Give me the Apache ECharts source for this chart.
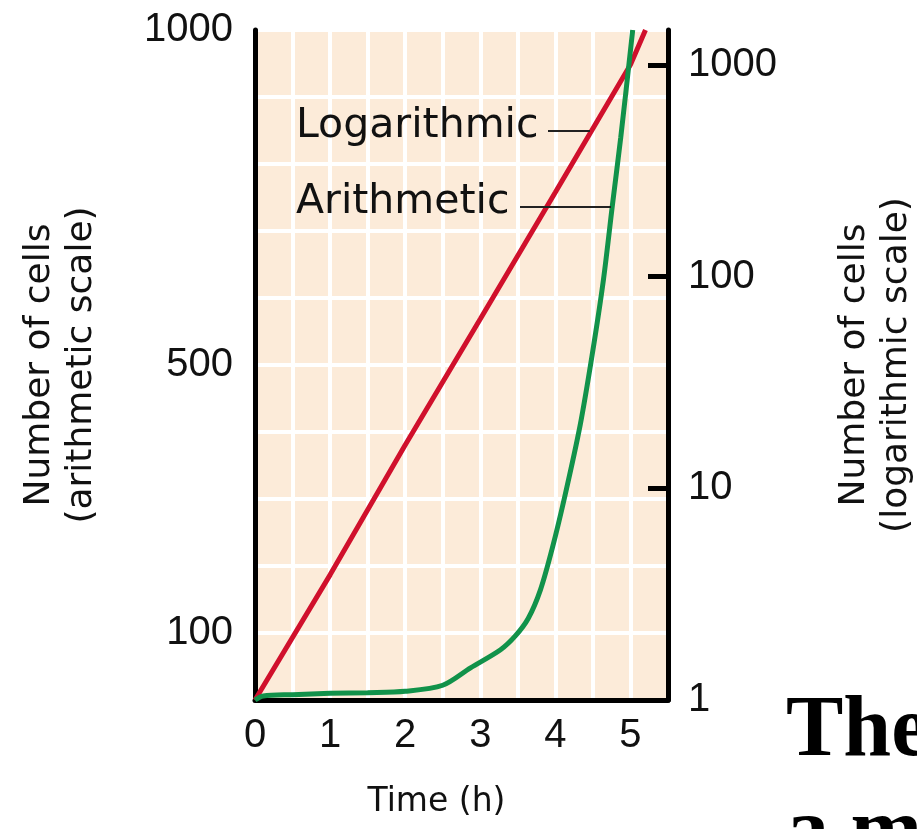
<!DOCTYPE html>
<html>
<head>
<meta charset="utf-8">
<script src="https://cdn.jsdelivr.net/npm/echarts@6/dist/echarts.min.js"></script>
<style>
html,body{margin:0;padding:0;background:#fff;}
#c{width:917px;height:829px;}
</style>
</head>
<body>
<div id="c"></div>
<script>
// Time (h) values and cell counts
var logTime   = [0, 1, 2, 3, 4, 5, 5.2];
var logCells  = [1, 3.9, 16, 63, 250, 1000, 1460];          // red line, log scale (right axis)
var arithTime  = [0, 0.11, 0.5, 1, 1.5, 2, 2.5, 2.87, 3.27, 3.47, 3.64, 3.80, 3.96, 4.13, 4.33, 4.49, 4.64, 4.76, 4.87, 5.03];
var arithCells = [0, 6, 8, 10, 11, 13, 22, 48, 75, 96, 122, 164, 227, 306, 410, 515, 627, 739, 839, 1000]; // green curve, arithmetic scale (left axis)
var xTickLabels = [0, 1, 2, 3, 4, 5];
var leftTickLabels = [100, 500, 1000];
var rightTickLabels = [1, 10, 100, 1000];
var rightTicks = [10, 100, 1000];

function zip(a, b) { return a.map(function (v, i) { return [v, b[i]]; }); }
function plain(v) { return String(Math.round(v)); }

var numFont = 'Liberation Sans';
var wordFont = 'DejaVu Sans';

var chart = echarts.init(document.getElementById('c'));
chart.setOption({
  animation: false,
  backgroundColor: '#ffffff',
  grid: {
    left: 255, right: 249, top: 30, bottom: 129,
    outerBoundsMode: 'none', containLabel: false,
    show: true, backgroundColor: '#fcebd9', borderWidth: 0
  },
  xAxis: {
    type: 'value', min: 0, max: 5.5, interval: 0.5,
    name: 'Time (h)', nameLocation: 'middle', nameGap: 86, nameMoveOverlap: false,
    nameTextStyle: { fontFamily: wordFont, fontSize: 33, color: '#111', padding: [0, 50, 0, 0] },
    axisLine: { show: true, lineStyle: { color: '#000', width: 5 } },
    axisTick: { show: false },
    axisLabel: { customValues: xTickLabels, formatter: plain, fontFamily: numFont, fontSize: 40, color: '#111', margin: 16 },
    splitLine: { show: true, lineStyle: { color: '#ffffff', width: 4 } }
  },
  yAxis: [{
    type: 'value', min: 0, max: 1000, interval: 100, position: 'left',
    name: 'Number of cells\n(arithmetic scale)', nameLocation: 'middle', nameRotate: 90, nameGap: 152, nameMoveOverlap: false,
    nameTextStyle: { fontFamily: wordFont, fontSize: 36, color: '#111', lineHeight: 42, align: 'center' },
    axisLine: { show: true, lineStyle: { color: '#000', width: 5 } },
    axisTick: { show: false },
    axisLabel: { customValues: leftTickLabels, formatter: plain, fontFamily: numFont, fontSize: 40, color: '#111', margin: 22 },
    splitLine: { show: true, lineStyle: { color: '#ffffff', width: 4 } }
  }, {
    type: 'log', logBase: 10, min: 1, max: 1460, position: 'right',
    name: 'Number of cells\n(logarithmic scale)', nameLocation: 'middle', nameRotate: 90, nameGap: 166, nameMoveOverlap: false,
    nameTextStyle: { fontFamily: wordFont, fontSize: 36, color: '#111', lineHeight: 42, align: 'center' },
    axisLine: { show: true, lineStyle: { color: '#000', width: 5 } },
    axisTick: { show: true, inside: true, length: 20, customValues: rightTicks, lineStyle: { color: '#000', width: 5 } },
    axisLabel: { customValues: rightTickLabels, formatter: plain, fontFamily: numFont, fontSize: 40, color: '#111', margin: 20 },
    splitLine: { show: false }
  }],
  series: [{
    name: 'Logarithmic', type: 'line', yAxisIndex: 1, showSymbol: false,
    data: zip(logTime, logCells),
    lineStyle: { color: '#d0102c', width: 5 }, z: 3
  }, {
    name: 'Arithmetic', type: 'line', yAxisIndex: 0, showSymbol: false, smooth: 0.3,
    data: zip(arithTime, arithCells),
    lineStyle: { color: '#11924a', width: 5 }, z: 4
  }],
  graphic: [
    { type: 'text', left: 296, top: 106, style: { text: 'Logarithmic', font: '41px "DejaVu Sans"', fill: '#111' }, z: 10 },
    { type: 'line', shape: { x1: 548, y1: 131, x2: 590, y2: 131 }, style: { stroke: '#222', lineWidth: 2 }, z: 10 },
    { type: 'text', left: 296, top: 182, style: { text: 'Arithmetic', font: '41px "DejaVu Sans"', fill: '#111' }, z: 10 },
    { type: 'line', shape: { x1: 520, y1: 207, x2: 611, y2: 207 }, style: { stroke: '#222', lineWidth: 2 }, z: 10 },
    { type: 'text', left: 786, top: 690, style: { text: 'The', font: 'bold 86px "Liberation Serif"', fill: '#000' }, z: 10 },
    { type: 'text', left: 786, top: 792, style: { text: 'a m', font: 'bold 86px "Liberation Serif"', fill: '#000' }, z: 10 }
  ]
});
</script>
</body>
</html>
